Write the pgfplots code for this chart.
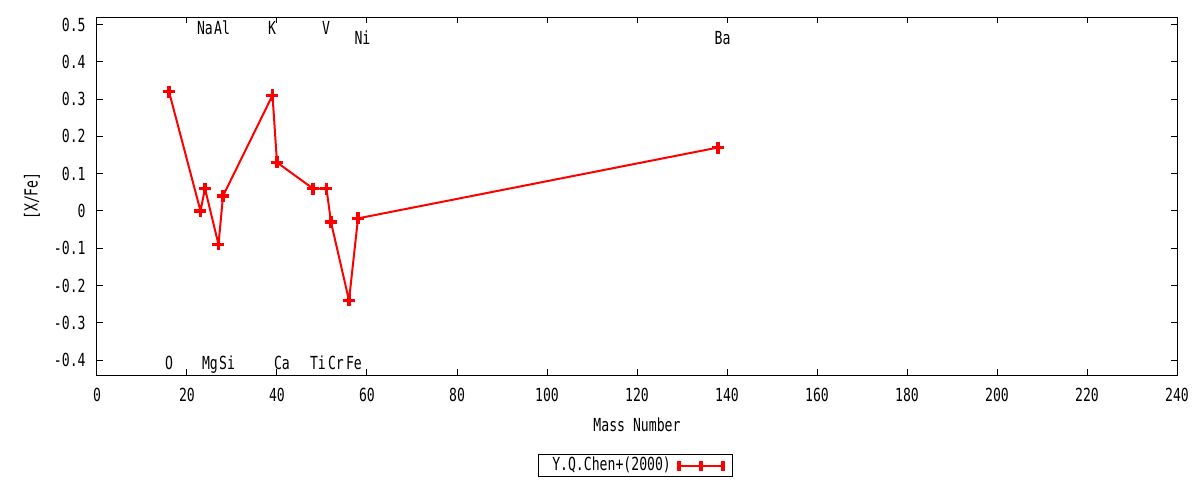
\documentclass[border=0pt]{standalone}
\usepackage{fontspec}
\setmonofont[FakeStretch=0.73]{DejaVu Sans Mono}
\usepackage{pgfplots}
\pgfplotsset{compat=1.18}

\begin{document}
\begin{tikzpicture}[font=\ttfamily\fontsize{9bp}{10bp}\selectfont]
\path[use as bounding box] (-48.5bp,-52.5bp) rectangle (551.5bp,187.5bp);
\begin{axis}[
  at={(0,0)}, anchor=south west,
  scale only axis, width=540bp, height=179bp,
  xmin=0, xmax=240, ymin=-0.44, ymax=0.52,
  xtick={0,20,...,240},
  ytick={-0.4,-0.3,-0.2,-0.1,0,0.1,0.2,0.3,0.4,0.5},
  tick align=inside, major tick length=3bp,
  axis line style={line width=0.5bp},
  every tick/.style={black, line width=0.5bp},
  /pgf/number format/assume math mode=true,
  /pgf/number format/.cd, fixed, precision=1, /pgfplots/.cd,
  x tick label style={anchor=center, yshift=-10bp, inner sep=0pt},
  y tick label style={anchor=east, xshift=-5.5bp, inner sep=0pt},
  xlabel={Mass Number}, ylabel={[X/Fe]},
  xlabel style={at={(axis description cs:0.5,0)}, anchor=center, yshift=-25bp},
  ylabel style={at={(axis description cs:-0.0602,0.5)}, anchor=center},
  clip=false,
  legend plot pos=right,
  legend style={at={(rel axis cs:0.4985,-0.253)}, anchor=center,
    draw=black, line width=0.5bp, inner xsep=4bp, inner ysep=0.3bp,
    nodes={inner xsep=3bp, inner ysep=1bp},
    font=\ttfamily\fontsize{9bp}{10bp}\selectfont},
  legend image code/.code={
    \draw[#1, mark=none] (0bp,0bp) -- (22bp,0bp);
    \draw[#1, mark=none, line width=1.8bp] (0bp,-2.5bp) -- (0bp,2.5bp)
      (11bp,-2.5bp) -- (11bp,2.5bp) (22bp,-2.5bp) -- (22bp,2.5bp);
  },
]
\addplot[red, line width=1bp, mark=+, mark size=3bp,
  mark options={line width=1.8bp}] coordinates {
  (16,0.32) (23,0.00) (24,0.06) (27,-0.09) (28,0.04) (39,0.31) (40,0.13)
  (48,0.06) (51,0.06) (52,-0.03) (56,-0.24) (58,-0.02) (138,0.17)
};
\addlegendentry{Y.Q.Chen+(2000)}

\begin{scope}[every node/.style={anchor=base, inner sep=0pt}]
\node at (axis cs:24.0,0.473) {Na};
\node at (axis cs:27.8,0.473) {Al};
\node at (axis cs:38.9,0.473) {K};
\node at (axis cs:50.9,0.473) {V};
\node at (axis cs:59.0,0.4465) {Ni};
\node at (axis cs:139.0,0.4465) {Ba};
\node at (axis cs:16.0,-0.425) {O};
\node at (axis cs:25.1,-0.425) {Mg};
\node at (axis cs:28.9,-0.425) {Si};
\node at (axis cs:41.1,-0.425) {Ca};
\node at (axis cs:49.1,-0.425) {Ti};
\node at (axis cs:53.1,-0.425) {Cr};
\node at (axis cs:57.1,-0.425) {Fe};
\end{scope}
\end{axis}
\end{tikzpicture}
\end{document}
